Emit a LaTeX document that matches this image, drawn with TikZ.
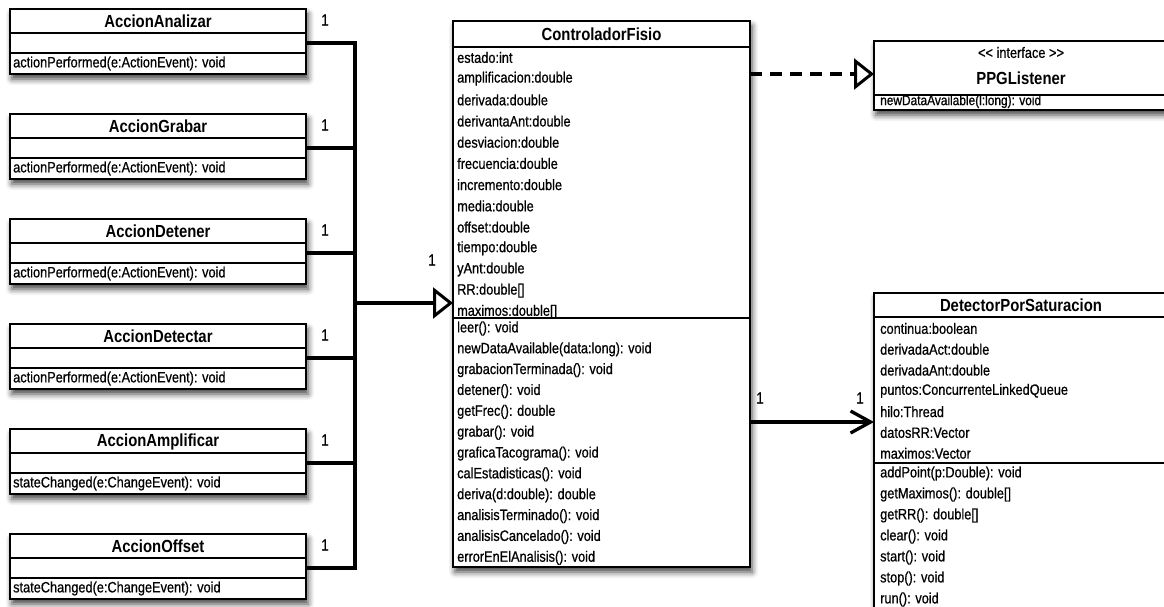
\documentclass[tikz,border=0pt]{standalone}
\usepackage{fontspec}
\setmainfont{Liberation Sans}[FakeStretch=0.85, UprightFeatures={FakeBold=0.7}]
\usetikzlibrary{arrows.meta,shadows.blur,calc}

\tikzset{
  x=1pt, y=-1pt,
  frame/.style={draw=black, line width=1.6pt, fill=white, inner sep=0pt, outer sep=0pt,
    anchor=north west,
    blur shadow={shadow xshift=2pt, shadow yshift=-5pt, shadow blur radius=6pt, shadow opacity=75}},
  part/.style={draw=black, line width=1.6pt, fill=white, inner sep=0pt, outer sep=0pt, anchor=north west},
  ctitle/.style={font=\fontsize{17.5}{19}\selectfont\bfseries, inner sep=0pt},
  member/.style={font=\fontsize{15}{17}\selectfont, inner sep=0pt, anchor=west},
  mult/.style={font=\fontsize{16}{17}\selectfont, inner sep=0pt},
  wire/.style={line width=3.3pt, draw=black},
  generalize/.style={-{Triangle[open, length=20pt, width=31pt, line width=3pt]}},
  navigable/.style={-{Straight Barb[length=20pt, width=22pt, line width=3.3pt]}},
}

\begin{document}
\begin{tikzpicture}
\useasboundingbox (0,0) rectangle (1164,607);
\clip (0,0) rectangle (1164,607);

% ---- action classes on the left ----
\foreach \id/\top/\name/\meth in {
  ana/9/AccionAnalizar/{actionPerformed(e:ActionEvent): void},
  gra/114/AccionGrabar/{actionPerformed(e:ActionEvent): void},
  det/219/AccionDetener/{actionPerformed(e:ActionEvent): void},
  dtc/324/AccionDetectar/{actionPerformed(e:ActionEvent): void},
  amp/429/AccionAmplificar/{stateChanged(e:ChangeEvent): void},
  off/534/AccionOffset/{stateChanged(e:ChangeEvent): void}} {
  \node[frame, minimum width=296pt, minimum height=65pt] (\id) at (10,\top) {};
  \node[part, minimum width=296pt, minimum height=24pt] (\id-t) at (10,\top) {};
  \node[part, minimum width=296pt, minimum height=20pt] (\id-a) at (10,{\top+24}) {};
  \node[part, minimum width=296pt, minimum height=21pt] (\id-m) at (10,{\top+44}) {};
  \node[ctitle] at (158,{\top+12.5}) {\name};
  \node[member] at (13,{\top+54.5}) {\meth};
  \node[mult] at (325,{\top+11}) {1};
}

% ---- ControladorFisio ----
\node[frame, minimum width=297pt, minimum height=546pt] (ctl) at (453,21) {};
\node[part, minimum width=297pt, minimum height=26pt] (ctl-t) at (453,21) {};
\node[part, minimum width=297pt, minimum height=271pt] (ctl-a) at (453,47) {};
\node[part, minimum width=297pt, minimum height=249pt] (ctl-m) at (453,318) {};
\node[ctitle] at (601.5,34) {ControladorFisio};
\foreach \txt [count=\k from 0] in {estado:int, amplificacion:double, derivada:double,
  derivantaAnt:double, desviacion:double, frecuencia:double, incremento:double,
  media:double, offset:double, tiempo:double, yAnt:double, RR:double[], maximos:double[]}
  \node[member] at (457,{57.5+21.2*\k}) {\txt};
\foreach \txt [count=\k from 0] in {leer(): void, newDataAvailable(data:long): void,
  grabacionTerminada(): void, detener(): void, getFrec(): double, grabar(): void,
  graficaTacograma(): void, calEstadisticas(): void, deriva(d:double): double,
  analisisTerminado(): void, analisisCancelado(): void, errorEnElAnalisis(): void}
  \node[member] at (457,{328.5+20.85*\k}) {\txt};

% ---- PPGListener interface ----
\node[frame, minimum width=294pt, minimum height=69pt] (ppg) at (874,41) {};
\node[part, minimum width=294pt, minimum height=54pt] (ppg-t) at (874,41) {};
\node[part, minimum width=294pt, minimum height=15pt] (ppg-m) at (874,95) {};
\node[font=\fontsize{15}{17}\selectfont, inner sep=0pt] at (1021,52.5) {<{}< interface >{}>};
\node[ctitle] at (1021,78) {PPGListener};
\node[member, font=\fontsize{14}{16}\selectfont] at (880,101.5) {newDataAvailable(l:long): void};

% ---- DetectorPorSaturacion ----
\node[frame, minimum width=294pt, minimum height=322pt] (dps) at (874,293) {};
\node[part, minimum width=294pt, minimum height=24pt] (dps-t) at (874,293) {};
\node[part, minimum width=294pt, minimum height=146pt] (dps-a) at (874,317) {};
\node[part, minimum width=294pt, minimum height=152pt] (dps-m) at (874,463) {};
\node[ctitle] at (1021,305.5) {DetectorPorSaturacion};
\foreach \txt [count=\k from 0] in {continua:boolean, derivadaAct:double, derivadaAnt:double,
  puntos:ConcurrenteLinkedQueue, hilo:Thread, datosRR:Vector, maximos:Vector}
  \node[member] at (880,{328.5+20.8*\k}) {\txt};
\foreach \txt [count=\k from 0] in {addPoint(p:Double): void, getMaximos(): double[],
  getRR(): double[], clear(): void, start(): void, stop(): void, run(): void}
  \node[member] at (880,{473.5+21*\k}) {\txt};

% ---- connectors ----
\coordinate (bus) at (355,303);
\coordinate (rl) at (800,74);
\coordinate (as) at (800,422);
\draw[wire] (ana-a.east) -- (ana-a.east -| bus) -- (off-a.east -| bus) -- (off-a.east);
\foreach \id in {gra,det,dtc,amp}
  \draw[wire] (\id-a.east) -- (\id-a.east -| bus);
\draw[wire, generalize] (bus) -- (bus -| ctl.west);
\node[mult] at (432,260) {1};

\draw[wire, dash pattern=on 12pt off 8pt, generalize] (ctl.east |- rl) -- (ppg.west |- rl);

\draw[wire, navigable] (ctl.east |- as) -- (dps.west |- as);
\node[mult] at (760,398) {1};
\node[mult] at (860,398) {1};
\end{tikzpicture}
\end{document}
